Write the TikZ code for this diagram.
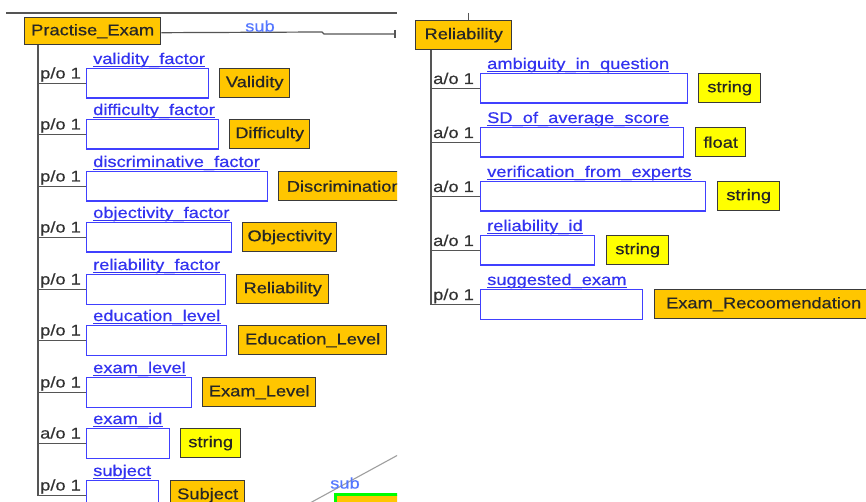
\documentclass[tikz,border=0pt]{standalone}
\usepackage{fontspec}
\setmainfont{Liberation Sans}[FakeStretch=1.18,FakeBold=0.5]
\definecolor{tyorange}{RGB}{255,198,0}
\definecolor{tyyellow}{RGB}{255,255,0}
\definecolor{tyborder}{RGB}{58,58,58}
\definecolor{fblue}{RGB}{64,64,255}
\definecolor{lblue}{RGB}{51,51,240}
\definecolor{subblue}{RGB}{85,120,255}
\definecolor{lgray}{RGB}{85,85,85}
\definecolor{tgreen}{RGB}{0,255,0}
\tikzset{
  every node/.style={font=\fontsize{15.5}{18}\selectfont},
  conn/.style={draw=lgray, line width=1.5pt},
  fieldbox/.style={draw=fblue, line width=1.4pt, fill=white, anchor=north west, inner sep=0pt, minimum height=29.5pt},
  typebox/.style={draw=tyborder, line width=1.4pt, anchor=north west, inner sep=0pt, minimum height=29pt, text=black!85},
  flabel/.style={text=lblue, anchor=base west, inner sep=0pt},
  mlabel/.style={text=black!80, anchor=base west, inner sep=0pt},
  sublabel/.style={text=subblue, inner sep=0pt},
}
\begin{document}
\begin{tikzpicture}[x=1pt,y=-1pt]
\path[use as bounding box, fill=white] (0,0) rectangle (866,502);
\clip (0,0) rectangle (866,502);
% ---------- left panel ----------
\begin{scope}
\clip (0,0) rectangle (397,502);
\coordinate (topl) at (6,13);
\coordinate (topr) at (397,13);
\draw[conn] (topl) -- (topr);
\node[typebox, fill=tyorange, minimum width=136pt, minimum height=27pt] (pe) at (24,17) {Practise\_Exam};
\coordinate (ltx) at (38,0);
\coordinate (subend) at (395,34);
\draw[conn, line width=1.2pt] ([yshift=-1.5pt]pe.east) -- (322,32) -- (324,34) -- (subend);
\draw[conn, line width=1.2pt] ([yshift=4pt]subend) -- ([yshift=-4pt]subend);
\node[sublabel] (sub1) at (260,26) {sub};
\foreach \i/\t/\fr/\tl/\tr/\tt/\tc/\m/\lab in {
1/68/208/219/289/Validity/tyorange/p/validity\_factor,
2/119/218/229/309/Difficulty/tyorange/p/difficulty\_factor,
3/171/267/278/409/Discrimination/tyorange/p/discriminative\_factor,
4/222/231/242/336/Objectivity/tyorange/p/objectivity\_factor,
5/274/225/236/328/Reliability/tyorange/p/reliability\_factor,
6/325/226/238/386/Education\_Level/tyorange/p/education\_level,
7/377/191/202/315/Exam\_Level/tyorange/p/exam\_level,
8/428/169/180/240/string/tyyellow/a/exam\_id,
9/480/158/170/244/Subject/tyorange/p/subject}{
  \node[fieldbox, minimum width=\fr-86] (lf\i) at (86,\t) {};
  \node[typebox, fill=\tc, minimum width=\tr-\tl] (lt\i) at (\tl,\t) {\tt};
  \node[flabel] (ll\i) at (93,\t-4) {\lab};
  \draw[draw=lblue, line width=0.9pt] ([yshift=-2pt]ll\i.base west) -- ([yshift=-2pt]ll\i.base east);
  \node[mlabel] (lm\i) at (40,\t+10.5) {\m/o 1};
}
\draw[conn] (pe.south -| ltx) |- (lf9.west);
\foreach \i in {1,...,8}{
  \draw[conn] (lf\i.west -| ltx) -- (lf\i.west);
}
% bottom right fragment
\coordinate (d1) at (310,503);
\coordinate (d2) at (398,455);
\draw[draw=gray!75, line width=1.1pt] (d1) -- (d2);
\node[sublabel] (sub2) at (345,483) {sub};
\node[draw=tgreen, line width=3pt, fill=tyorange, anchor=north west, minimum width=80pt, minimum height=20pt, inner sep=0pt] (gbox) at (334,493) {};
\end{scope}
% ---------- right panel ----------
\node[typebox, fill=tyorange, minimum width=96pt] (rel) at (415,20) {Reliability};
\coordinate (rvx) at (468,13);
\draw[conn, line width=1pt] (rvx) -- (rvx |- rel.north);
\coordinate (rtx) at (431,0);
\foreach \i/\t/\fr/\tl/\tr/\tt/\tc/\m/\lab in {
1/73/687/698/760/string/tyyellow/a/ambiguity\_in\_question,
2/127/683/695/745/float/tyyellow/a/SD\_of\_average\_score,
3/181/705/717/779/string/tyyellow/a/verification\_from\_experts,
4/235/594/606/668/string/tyyellow/a/reliability\_id,
5/289/642/654/872/Exam\_Recoomendation/tyorange/p/suggested\_exam}{
  \node[fieldbox, minimum width=\fr-480] (rf\i) at (480,\t) {};
  \node[typebox, fill=\tc, minimum width=\tr-\tl] (rt\i) at (\tl,\t) {\tt};
  \node[flabel] (rl\i) at (487,\t-4) {\lab};
  \draw[draw=lblue, line width=0.9pt] ([yshift=-2pt]rl\i.base west) -- ([yshift=-2pt]rl\i.base east);
  \node[mlabel] (rm\i) at (433,\t+11) {\m/o 1};
}
\draw[conn] (rel.south -| rtx) |- (rf5.west);
\foreach \i in {1,...,4}{
  \draw[conn] (rf\i.west -| rtx) -- (rf\i.west);
}
\end{tikzpicture}
\end{document}
